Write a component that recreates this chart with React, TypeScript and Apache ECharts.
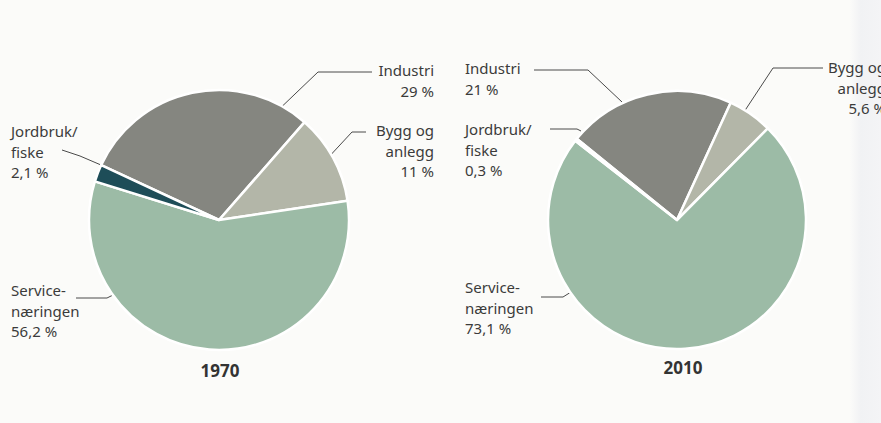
import React, { useEffect, useRef } from "react";
import * as echarts from "echarts";

const categories = ["Industri", "Bygg og\nanlegg", "Service-\nnæringen", "Jordbruk/\nfiske"];
const values1970 = [29, 11, 56.2, 2.1];
const values2010 = [21, 5.6, 73.1, 0.3];
const years = ["1970", "2010"];

const colors = ["#858680", "#b3b6a8", "#9cbba6", "#1e4d58"];

// label layout (anchor x, y, align, leader line points) per pie & slice
const labelLayouts = [
  [
    { x: 434, y: 60, align: "right", line: [[272, 116], [318, 72], [372, 72]] },
    { x: 434, y: 120, align: "right", line: [[326, 160], [352, 132], [366, 132]] },
    { x: 11, y: 280, align: "left", line: [[133, 285], [107, 298], [76, 298]] },
    { x: 11, y: 121, align: "left", line: [[101, 165], [80, 156], [62, 150]] },
  ],
  [
    { x: 465, y: 58, align: "left", line: [[622, 102], [588, 70], [534, 70]] },
    { x: 886, y: 57, align: "right", line: [[742, 115], [773, 68], [823, 68]] },
    { x: 465, y: 277, align: "left", line: [[587, 282], [563, 297], [541, 297]] },
    { x: 465, y: 119, align: "left", line: [[581, 131], [577, 129], [550, 129]] },
  ],
];

const fmt = (v: number) => String(v).replace(".", ",") + " %";

export default function App() {
  const ref = useRef<HTMLDivElement>(null);
  useEffect(() => {
    document.body.style.margin = "0";
    const chart = echarts.init(ref.current!, null, { renderer: "svg" });
    const makeSeries = (vals: number[], idx: number, center: number[], radius: number, startAngle: number) => ({
      type: "pie",
      center,
      radius,
      startAngle,
      clockwise: true,
      silent: true,
      itemStyle: { borderColor: "#ffffff", borderWidth: 2.5 },
      label: {
        show: true,
        position: "outside",
        formatter: (p: any) => p.name + "\n" + fmt(p.value),
        fontFamily: "Noto Sans",
        fontSize: 15,
        lineHeight: 20.5,
        color: "#3b3b3b",
        width: 110,
        overflow: "none",
      },
      labelLine: { show: true, lineStyle: { color: "#4a4a4a", width: 1 } },
      labelLayout: (p: any) => {
        const L = labelLayouts[idx][p.dataIndex];
        return {
          x: L.x,
          y: L.y,
          align: L.align,
          verticalAlign: "top",
          labelLinePoints: L.line,
        };
      },
      data: vals.map((v, i) => ({ name: categories[i], value: v, itemStyle: { color: colors[i] } })),
    });
    chart.setOption({
      animation: false,
      backgroundColor: "#fbfbf9",
      series: [
        makeSeries(values1970, 0, [219, 220], 130, 155),
        makeSeries(values2010, 1, [677, 220], 129, 141),
      ],
      graphic: [
        {
          type: "rect",
          z: -10,
          shape: { x: 850, y: 0, width: 31, height: 423 },
          style: {
            fill: new echarts.graphic.LinearGradient(0, 0, 1, 0, [
              { offset: 0, color: "#fbfbf9" },
              { offset: 0.35, color: "#f1f2f4" },
              { offset: 1, color: "#f4f4f6" },
            ]),
          },
        },
        {
          type: "text",
          x: 220,
          y: 370,
          style: { text: years[0], align: "center", verticalAlign: "middle", font: "bold 17px 'Noto Sans'", fill: "#333" },
        },
        {
          type: "text",
          x: 683,
          y: 367,
          style: { text: years[1], align: "center", verticalAlign: "middle", font: "bold 17px 'Noto Sans'", fill: "#333" },
        },
      ],
    });
    return () => chart.dispose();
  }, []);
  return <div ref={ref} style={{ width: 881, height: 423 }} />;
}
